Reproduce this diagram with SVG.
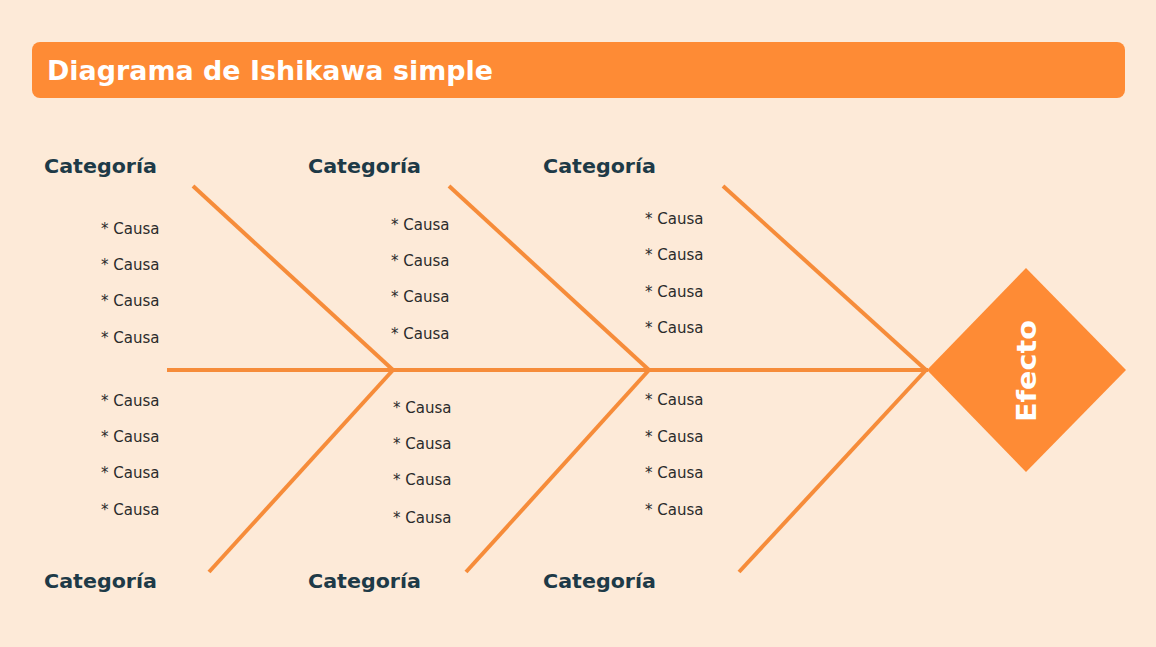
<svg xmlns="http://www.w3.org/2000/svg" width="1156" height="647" viewBox="0 0 1156 647">
<style>
.bone{stroke:#F68C3A;stroke-width:4;stroke-linecap:butt;fill:none}
.cat{font-family:"DejaVu Sans","Liberation Sans",sans-serif;font-weight:700;font-size:19px;fill:#1E3A47}
.cau{font-family:"DejaVu Sans","Liberation Sans",sans-serif;font-size:15px;fill:#2B2B2B}
.title{font-family:"DejaVu Sans","Liberation Sans",sans-serif;font-weight:700;font-size:26px;fill:#FFFFFF}
.eff{font-family:"DejaVu Sans","Liberation Sans",sans-serif;font-weight:700;font-size:27px;fill:#FFFFFF}
</style>
<rect x="0" y="0" width="1156" height="647" fill="#FDEAD8"/>
<g id="title">
<rect x="32" y="42" width="1093" height="56" rx="8" fill="#FE8B35"/>
<text class="title" x="47" y="80" textLength="446" lengthAdjust="spacingAndGlyphs">Diagrama de Ishikawa simple</text>
</g>
<g id="connectors">
<line class="bone" x1="167" y1="370" x2="928" y2="370"/>
<line class="bone" x1="193" y1="186" x2="393" y2="370"/>
<line class="bone" x1="449" y1="186" x2="649" y2="370"/>
<line class="bone" x1="723" y1="186" x2="926" y2="370"/>
<line class="bone" x1="209" y1="572" x2="393" y2="370"/>
<line class="bone" x1="466" y1="572" x2="649" y2="370"/>
<line class="bone" x1="739" y1="572" x2="926" y2="370"/>
</g>
<g id="effect">
<polygon points="1026,268 1126,370 1026,472 927,370" fill="#FE8B35"/>
<text class="eff" x="0" y="0" text-anchor="middle" textLength="102" lengthAdjust="spacingAndGlyphs" transform="translate(1036,371) rotate(-90)">Efecto</text>
</g>
<g id="cat-top-1"><text class="cat" x="44" y="173" textLength="113" lengthAdjust="spacingAndGlyphs">Categoría</text></g>
<g id="cat-top-2"><text class="cat" x="308" y="173" textLength="113" lengthAdjust="spacingAndGlyphs">Categoría</text></g>
<g id="cat-top-3"><text class="cat" x="543" y="173" textLength="113" lengthAdjust="spacingAndGlyphs">Categoría</text></g>
<g id="cat-bot-1"><text class="cat" x="44" y="588" textLength="113" lengthAdjust="spacingAndGlyphs">Categoría</text></g>
<g id="cat-bot-2"><text class="cat" x="308" y="588" textLength="113" lengthAdjust="spacingAndGlyphs">Categoría</text></g>
<g id="cat-bot-3"><text class="cat" x="543" y="588" textLength="113" lengthAdjust="spacingAndGlyphs">Categoría</text></g>
<g id="causes-top-1">
<text class="cau" x="101" y="234">* Causa</text>
<text class="cau" x="101" y="270">* Causa</text>
<text class="cau" x="101" y="306">* Causa</text>
<text class="cau" x="101" y="343">* Causa</text>
</g>
<g id="causes-bot-1">
<text class="cau" x="101" y="406">* Causa</text>
<text class="cau" x="101" y="442">* Causa</text>
<text class="cau" x="101" y="478">* Causa</text>
<text class="cau" x="101" y="515">* Causa</text>
</g>
<g id="causes-top-2">
<text class="cau" x="391" y="230">* Causa</text>
<text class="cau" x="391" y="266">* Causa</text>
<text class="cau" x="391" y="302">* Causa</text>
<text class="cau" x="391" y="339">* Causa</text>
</g>
<g id="causes-bot-2">
<text class="cau" x="393" y="413">* Causa</text>
<text class="cau" x="393" y="449">* Causa</text>
<text class="cau" x="393" y="485">* Causa</text>
<text class="cau" x="393" y="523">* Causa</text>
</g>
<g id="causes-top-3">
<text class="cau" x="645" y="224">* Causa</text>
<text class="cau" x="645" y="260">* Causa</text>
<text class="cau" x="645" y="297">* Causa</text>
<text class="cau" x="645" y="333">* Causa</text>
</g>
<g id="causes-bot-3">
<text class="cau" x="645" y="405">* Causa</text>
<text class="cau" x="645" y="442">* Causa</text>
<text class="cau" x="645" y="478">* Causa</text>
<text class="cau" x="645" y="515">* Causa</text>
</g>
</svg>
